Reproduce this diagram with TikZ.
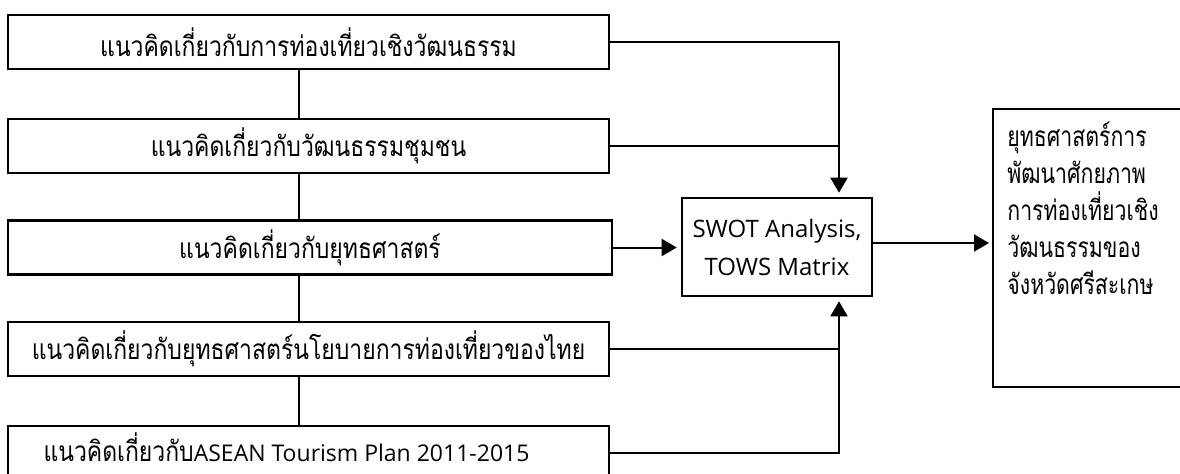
\documentclass[tikz,border=0pt]{standalone}
\usepackage{fontspec}
\usetikzlibrary{arrows.meta}
\newfontfamily\thaifont[Script=Thai,FakeStretch=0.82]{Loma}
\newfontfamily\thaibox[Script=Thai,FakeStretch=0.76]{Loma}
\newfontfamily\latfont{Open Sans}
\begin{document}
\begin{tikzpicture}[x=0.5pt,y=-0.5pt,
  leftbox/.style={draw,line width=1.3pt,minimum width=300.5pt,minimum height=27pt,inner sep=0pt,font=\thaifont\fontsize{14}{17}\selectfont},
  conn/.style={line width=1pt},
  arr/.style={line width=1pt,-{Triangle[length=7.5pt,width=8.5pt]},shorten >=2pt}]
\useasboundingbox (0,0) rectangle (1180,473);
\clip (0,0) rectangle (1180,473);
\fill[white] (0,0) rectangle (1180,473);
\node[leftbox] (b1) at (308.5,42) {แนวคิดเกี่ยวกับการท่องเที่ยวเชิงวัฒนธรรม};
\node[leftbox] (b2) at (308.5,146) {แนวคิดเกี่ยวกับวัฒนธรรมชุมชน};
\node[leftbox,minimum width=302pt] (b3) at (310,247.5) {แนวคิดเกี่ยวกับยุทธศาสตร์};
\node[leftbox] (b4) at (308.5,349) {แนวคิดเกี่ยวกับยุทธศาสตร์นโยบายการท่องเที่ยวของไทย};
\node[leftbox,minimum height=29pt] (b5) at (308.5,455) {\raisebox{-3pt}[0pt][0pt]{\hspace*{-22pt}แนวคิดเกี่ยวกับ{\latfont\fontsize{11.5}{16}\selectfont ASEAN Tourism Plan 2011-2015}}};
\node[draw,line width=1.3pt,minimum width=95pt,minimum height=49pt,inner sep=0pt,align=center,
  font=\latfont\fontsize{12}{19}\selectfont] (swot) at (777,247) {SWOT Analysis,\\TOWS Matrix};
\node[anchor=north west,minimum width=140pt,minimum height=138.5pt,inner sep=0pt] (out) at (993,109) {};
\draw[line width=1.3pt] (out.north east) -- (out.north west) -- (out.south west) -- (out.south east);
\node[anchor=north west,align=left,inner sep=0pt,font=\thaibox\fontsize{14}{18.5}\selectfont] (outtext) at (1007,122)
  {ยุทธศาสตร์การ\\พัฒนาศักยภาพ\\การท่องเที่ยวเชิง\\วัฒนธรรมของ\\จังหวัดศรีสะเกษ};
\coordinate (vx) at (299,0);
\coordinate (tap) at (839,0);
\draw[conn] (b1.south -| vx) -- (b2.north -| vx);
\draw[conn] (b2.south -| vx) -- (b3.north -| vx);
\draw[conn] (b3.south -| vx) -- (b4.north -| vx);
\draw[conn] (b4.south -| vx) -- (b5.north -| vx);
\draw[arr] (b1.east) -| (swot.north -| tap);
\draw[conn] (b2.east) -- (b2.east -| tap);
\draw[arr] (b5.east |- 0,453) -| (swot.south -| tap);
\draw[conn] (b4.east) -- (b4.east -| tap);
\draw[arr] (b3.east) -- (b3.east -| swot.west);
\draw[arr] (swot.east |- 0,243) -- (out.west |- 0,243);
\end{tikzpicture}
\end{document}
